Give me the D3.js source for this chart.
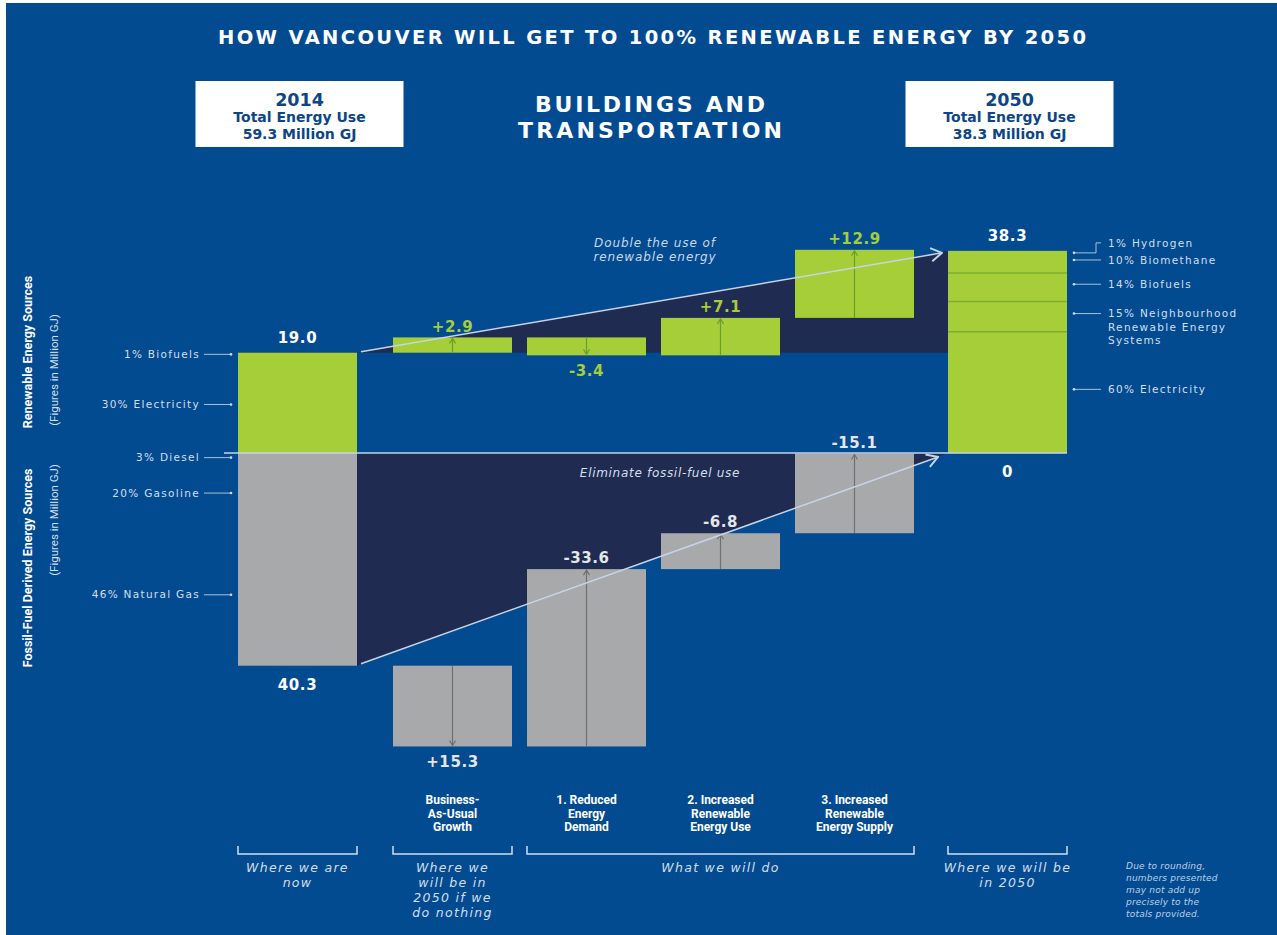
<!DOCTYPE html>
<html>
<head>
<meta charset="utf-8">
<script src="https://cdn.jsdelivr.net/npm/d3@7"></script>
<style>
  html, body { margin: 0; padding: 0; background: #fff; }
  svg { display: block; }
</style>
</head>
<body>
<div id="chart"></div>
<script>
// waterfall steps, left to right
const stepKeys = ["2014", "BAU", "Reduced", "RenewUse", "RenewSupply", "2050"];
const stepLabels = [
  [],
  ["Business-", "As-Usual", "Growth"],
  ["1. Reduced", "Energy", "Demand"],
  ["2. Increased", "Renewable", "Energy Use"],
  ["3. Increased", "Renewable", "Energy Supply"],
  []
];
// million GJ: first and last are totals, the rest are changes
const renewable = [19.0, 2.9, -3.4, 7.1, 12.9, 38.3];
const fossil = [40.3, 15.3, -33.6, -6.8, -15.1, 0];

// energy mix, listed from the zero line outwards
const mix2014Renewable = [["30% Electricity", 30], ["1% Biofuels", 1]];
const mix2014Fossil = [["3% Diesel", 3], ["20% Gasoline", 20], ["46% Natural Gas", 46]];
const mix2050 = [
  [["60% Electricity"], 60],
  [["15% Neighbourhood", "Renewable Energy", "Systems"], 15],
  [["14% Biofuels"], 14],
  [["10% Biomethane"], 10],
  [["1% Hydrogen"], 1]
];

const brackets = [
  { from: "2014", to: "2014", text: ["Where we are", "now"] },
  { from: "BAU", to: "BAU", text: ["Where we", "will be in", "2050 if we", "do nothing"] },
  { from: "Reduced", to: "RenewSupply", text: ["What we will do"] },
  { from: "2050", to: "2050", text: ["Where we will be", "in 2050"] }
];
const footnote = ["Due to rounding,", "numbers presented", "may not add up", "precisely to the", "totals provided."];

const W = 1277, H = 935;
const BLUE = "#034b91", GREEN = "#a6ce39", GREY = "#a8a9ab", NAVY = "#1f2b50";
const LIGHT = "#d3deeb";
const WIDE = "'DejaVu Sans', sans-serif";
const NARROW = "Roboto, 'Liberation Sans', sans-serif";

const svg = d3.select("#chart").append("svg")
  .attr("width", W).attr("height", H);

svg.append("rect").attr("x", 6).attr("y", 3)
  .attr("width", W - 6).attr("height", H - 3).attr("fill", BLUE);

const defs = svg.append("defs");
function chevron(id, color, size, sw) {
  defs.append("marker").attr("id", id)
    .attr("viewBox", `-1 ${-size} ${size + 2} ${size * 2}`)
    .attr("refX", size).attr("refY", 0)
    .attr("markerUnits", "userSpaceOnUse")
    .attr("markerWidth", size + 2).attr("markerHeight", size * 2)
    .attr("orient", "auto")
    .append("path")
    .attr("d", `M0,${-size * 0.6}L${size},0L0,${size * 0.6}`)
    .attr("fill", "none").attr("stroke", color).attr("stroke-width", sw);
}
chevron("bigArrow", "#c6d4e8", 11, 2);
chevron("greenArrow", "#6d9e2a", 5, 1.2);
chevron("greyArrow", "#707070", 5, 1.2);

// scales
const x = d3.scaleBand().domain(stepKeys).range([259, 1048])
  .paddingInner(15 / 134).paddingOuter(0);
const bw = x.bandwidth();
function colX(k) {
  if (k === stepKeys[0]) return x(k) - 21;
  if (k === stepKeys[stepKeys.length - 1]) return x(k) + 19;
  return x(k);
}
const k = 5.278;
const y = d3.scaleLinear().domain([-60, 40]).range([453 + 60 * k, 453 - 40 * k]);

// waterfall segments
function waterfall(vals, sign) {
  const out = [];
  let cum = 0;
  vals.forEach((v, i) => {
    if (i === 0 || i === vals.length - 1) {
      out.push({ key: stepKeys[i], from: 0, to: sign * v, v, total: true });
      cum = v;
    } else {
      out.push({ key: stepKeys[i], from: sign * cum, to: sign * (cum + v), v, total: false });
      cum += v;
    }
  });
  return out;
}
const renSeg = waterfall(renewable, 1);
const fosSeg = waterfall(fossil, -1);
const first = stepKeys[0], last = stepKeys[stepKeys.length - 1];

// dark wedges behind the bars
const renTop = renewable[0], renEnd = renewable[renewable.length - 1];
svg.append("path")
  .attr("d", d3.line()([
    [colX(first) + bw, y(renTop)],
    [colX(last), y(renEnd)],
    [colX(last), y(renTop)]
  ]) + "Z")
  .attr("fill", NAVY);
svg.append("path")
  .attr("d", d3.line()([
    [colX(first) + bw, y(0)],
    [colX(first) + bw, y(-fossil[0])],
    [colX(last), y(0)]
  ]) + "Z")
  .attr("fill", NAVY);

// bars
function drawBars(segs, color, arrowId) {
  const g = svg.append("g");
  const bars = segs.filter(d => d.from !== d.to);
  g.selectAll("rect").data(bars).enter().append("rect")
    .attr("x", d => colX(d.key))
    .attr("y", d => y(Math.max(d.from, d.to)))
    .attr("width", bw)
    .attr("height", d => Math.abs(y(d.from) - y(d.to)))
    .attr("fill", color);
  g.selectAll("line").data(bars.filter(d => !d.total)).enter().append("line")
    .attr("x1", d => colX(d.key) + bw / 2)
    .attr("x2", d => colX(d.key) + bw / 2)
    .attr("y1", d => y(d.from))
    .attr("y2", d => y(d.to) + (d.to > d.from ? 1 : -1))
    .attr("stroke", arrowId === "greenArrow" ? "#6d9e2a" : "#707070")
    .attr("stroke-width", 1.2)
    .attr("marker-end", `url(#${arrowId})`);
}
drawBars(renSeg, GREEN, "greenArrow");
drawBars(fosSeg, GREY, "greyArrow");

// 2050 mix separators
const mixTotal = d3.sum(mix2050, d => d[1]);
let acc = 0;
const mix50 = mix2050.map(([lines, share]) => {
  const lo = acc; acc += share / mixTotal * renEnd;
  return { lines, share, lo, hi: acc };
});
svg.append("g").selectAll("line").data(mix50.slice(0, -2)).enter().append("line")
  .attr("x1", colX(last)).attr("x2", colX(last) + bw)
  .attr("y1", d => y(d.hi)).attr("y2", d => y(d.hi))
  .attr("stroke", "#7fae2e").attr("stroke-width", 1.5);

// zero line
svg.append("line")
  .attr("x1", 224).attr("x2", colX(last) + bw)
  .attr("y1", y(0)).attr("y2", y(0))
  .attr("stroke", "#c6d4e8").attr("stroke-width", 1.5);

// diagonal arrows
svg.append("line")
  .attr("x1", colX(first) + bw + 4).attr("y1", y(renTop) - 1)
  .attr("x2", colX(last) - 6).attr("y2", y(renEnd) + 2)
  .attr("stroke", "#c6d4e8").attr("stroke-width", 1.5)
  .attr("marker-end", "url(#bigArrow)");
svg.append("line")
  .attr("x1", colX(first) + bw + 4).attr("y1", y(-fossil[0]) - 2)
  .attr("x2", colX(last) - 10).attr("y2", y(0) + 4)
  .attr("stroke", "#c6d4e8").attr("stroke-width", 1.5)
  .attr("marker-end", "url(#bigArrow)");

// value labels
const fmt = d3.format(".1f");
function valueLabels(segs, isRen) {
  segs.forEach(d => {
    if (d.key === last && !isRen) {
      place(d.key, y(0) + 19, "0", "#fff");
      return;
    }
    const top = y(Math.max(d.from, d.to)), bot = y(Math.min(d.from, d.to));
    let above;
    if (isRen) above = d.total || d.v > 0;
    else above = !d.total && d.v < 0;
    const off = d.total ? (above ? 15 : 19) : (above ? 11 : 15);
    const txt = d.total ? fmt(d.v) : (d.v > 0 ? "+" : "-") + fmt(Math.abs(d.v));
    const col = d.total ? "#fff" : (isRen ? GREEN : "#e4e6ea");
    place(d.key, above ? top - off : bot + off, txt, col);
  });
  function place(key, cy, txt, col) {
    svg.append("text")
      .attr("x", colX(key) + bw / 2).attr("y", cy)
      .attr("dy", "0.35em").attr("text-anchor", "middle")
      .attr("font-family", WIDE).attr("font-weight", "bold")
      .attr("font-size", 15).attr("letter-spacing", 0.6)
      .attr("fill", col).text(txt);
  }
}
valueLabels(renSeg, true);
valueLabels(fosSeg, false);

// 2014 mix labels (left side)
function leftLabels(mix, sign, total) {
  const sum = d3.sum(mix, d => d[1]);
  let a = 0;
  mix.forEach(([label, share]) => {
    const part = share / sum * total;
    const cy = y(sign * (a + part / 2));
    a += part;
    svg.append("text").attr("x", 200).attr("y", cy).attr("dy", "0.35em")
      .attr("text-anchor", "end").attr("font-family", WIDE)
      .attr("font-size", 10.5).attr("letter-spacing", 1.3)
      .attr("fill", LIGHT).text(label);
    svg.append("line").attr("x1", 204).attr("x2", 230)
      .attr("y1", cy).attr("y2", cy)
      .attr("stroke", LIGHT).attr("stroke-width", 0.8);
    svg.append("circle").attr("cx", 231).attr("cy", cy).attr("r", 1.3).attr("fill", LIGHT);
  });
}
leftLabels(mix2014Renewable, 1, renewable[0]);
leftLabels(mix2014Fossil, -1, fossil[0]);

// 2050 mix labels (right side)
const rx = colX(last) + bw;
mix50.forEach(d => {
  const cy = y((d.lo + d.hi) / 2) - 3;
  const ty = d.share < 5 ? cy - 6 : cy;
  const dotY = d.share < 5 ? cy + 4 : cy;
  svg.append("circle").attr("cx", rx + 7).attr("cy", dotY).attr("r", 1.3).attr("fill", LIGHT);
  svg.append("path")
    .attr("d", ty === dotY ? `M${rx + 8},${cy}H${rx + 34}` : `M${rx + 8},${dotY}H${rx + 29}V${ty}H${rx + 34}`)
    .attr("fill", "none").attr("stroke", LIGHT).attr("stroke-width", 0.8);
  const t = svg.append("text").attr("x", rx + 41).attr("y", ty)
    .attr("font-family", WIDE).attr("font-size", 10.5).attr("letter-spacing", 1.3)
    .attr("fill", LIGHT);
  d.lines.forEach((ln, i) => {
    t.append("tspan").attr("x", rx + 41).attr("dy", i === 0 ? "0.35em" : 13.5).text(ln);
  });
});

// rotated side titles
function sideTitle(cx, cy, txt, bold, size, color) {
  svg.append("text")
    .attr("transform", `translate(${cx},${cy}) rotate(-90)`)
    .attr("text-anchor", "middle").attr("dy", "0.35em")
    .attr("font-family", NARROW).attr("font-weight", bold ? "bold" : "normal")
    .attr("font-size", size).attr("fill", color).text(txt);
}
sideTitle(28, 352, "Renewable Energy Sources", true, 12.5, "#fff");
sideTitle(54, 370, "(Figures in Million GJ)", false, 11.5, LIGHT);
sideTitle(28, 568, "Fossil-Fuel Derived Energy Sources", true, 12.5, "#fff");
sideTitle(54, 520, "(Figures in Million GJ)", false, 11.5, LIGHT);

// annotations in the wedges
function italic(cx, cy, lines, size, ls, color, anchor) {
  const t = svg.append("text").attr("x", cx).attr("y", cy)
    .attr("text-anchor", anchor || "middle").attr("font-family", WIDE)
    .attr("font-style", "italic").attr("font-size", size)
    .attr("letter-spacing", ls).attr("fill", color);
  lines.forEach((ln, i) => {
    t.append("tspan").attr("x", cx).attr("dy", i === 0 ? "0.35em" : size * 1.15).text(ln);
  });
}
italic(655, 243, ["Double the use of", "renewable energy"], 12, 0.9, "#c9d7ea");
italic(660, 473, ["Eliminate fossil-fuel use"], 12, 0.7, "#d6deea");

// step names under the chart
stepKeys.forEach((key, i) => {
  const t = svg.append("text").attr("x", colX(key) + bw / 2).attr("y", 800)
    .attr("text-anchor", "middle").attr("font-family", NARROW)
    .attr("font-weight", "bold").attr("font-size", 12).attr("fill", "#fff");
  stepLabels[i].forEach((ln, j) => {
    t.append("tspan").attr("x", colX(key) + bw / 2).attr("dy", j === 0 ? "0.35em" : 13.5).text(ln);
  });
});

// brackets
brackets.forEach(b => {
  const x0 = colX(b.from), x1 = colX(b.to) + bw;
  svg.append("path").attr("d", `M${x0},846V854H${x1}V846`)
    .attr("fill", "none").attr("stroke", LIGHT).attr("stroke-width", 1.5);
  const t = svg.append("text").attr("x", (x0 + x1) / 2).attr("y", 868)
    .attr("text-anchor", "middle").attr("font-family", WIDE)
    .attr("font-style", "italic").attr("font-size", 12.5)
    .attr("letter-spacing", 1.3).attr("fill", LIGHT);
  b.text.forEach((ln, j) => {
    t.append("tspan").attr("x", (x0 + x1) / 2).attr("dy", j === 0 ? "0.35em" : 15).text(ln);
  });
});

// footnote
const fn = svg.append("text").attr("x", 1126).attr("y", 866)
  .attr("font-family", WIDE).attr("font-style", "italic")
  .attr("font-size", 9).attr("letter-spacing", 0.2).attr("fill", "#bfcfe4");
footnote.forEach((ln, j) => {
  fn.append("tspan").attr("x", 1126).attr("dy", j === 0 ? "0.35em" : 12).text(ln);
});

// headline
svg.append("text").attr("x", 652).attr("y", 37).attr("dy", "0.35em")
  .attr("text-anchor", "middle").attr("font-family", WIDE)
  .attr("font-weight", "bold").attr("font-size", 19.5)
  .attr("textLength", 868).attr("lengthAdjust", "spacing")
  .attr("fill", "#fff")
  .text("HOW VANCOUVER WILL GET TO 100% RENEWABLE ENERGY BY 2050");

const sub = svg.append("text").attr("x", 650).attr("y", 104)
  .attr("text-anchor", "middle").attr("font-family", WIDE)
  .attr("font-weight", "bold").attr("font-size", 22).attr("fill", "#fff");
sub.append("tspan").attr("x", 650).attr("dy", "0.35em")
  .attr("textLength", 230).attr("lengthAdjust", "spacing").text("BUILDINGS AND");
sub.append("tspan").attr("x", 650).attr("dy", 26)
  .attr("textLength", 264).attr("lengthAdjust", "spacing").text("TRANSPORTATION");

// total boxes
const boxes = [
  { key: first, lines: ["2014", "Total Energy Use", "59.3 Million GJ"] },
  { key: last, lines: ["2050", "Total Energy Use", "38.3 Million GJ"] }
];
boxes.forEach(b => {
  const cx = colX(b.key) + bw / 2 + 2;
  svg.append("rect").attr("x", cx - 104).attr("y", 81)
    .attr("width", 208).attr("height", 66).attr("fill", "#fff");
  svg.append("text").attr("x", cx).attr("y", 100).attr("dy", "0.35em")
    .attr("text-anchor", "middle").attr("font-family", WIDE)
    .attr("font-weight", "bold").attr("font-size", 17.5).attr("fill", "#0d4585")
    .text(b.lines[0]);
  [b.lines[1], b.lines[2]].forEach((ln, j) => {
    svg.append("text").attr("x", cx).attr("y", 117 + j * 17).attr("dy", "0.35em")
      .attr("text-anchor", "middle").attr("font-family", WIDE)
      .attr("font-weight", "bold").attr("font-size", 14).attr("fill", "#0d4585")
      .text(ln);
  });
});
</script>
</body>
</html>
